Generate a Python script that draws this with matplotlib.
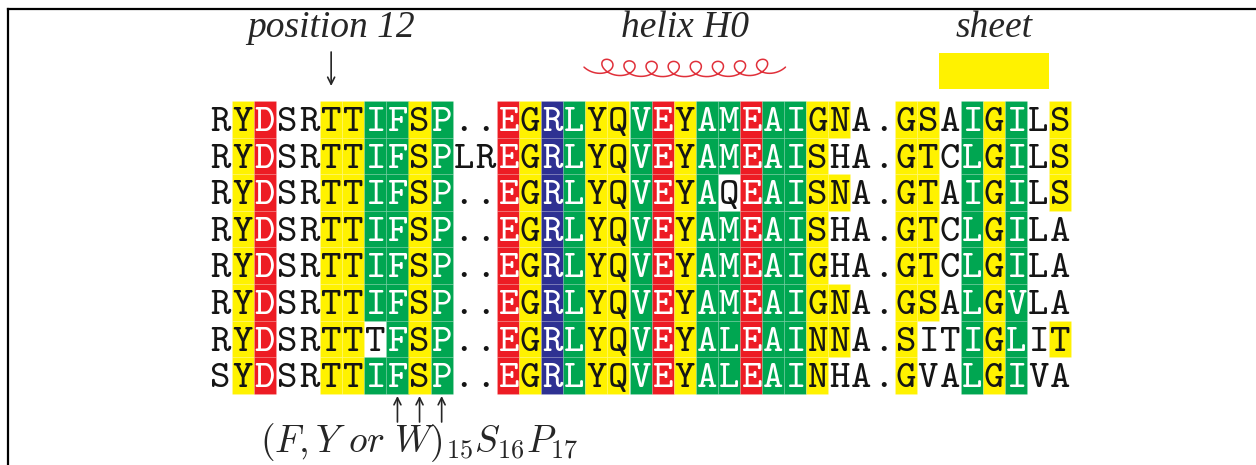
import os
import numpy as np
import matplotlib
matplotlib.use('Agg')
import matplotlib.pyplot as plt
from matplotlib.font_manager import FontProperties
from matplotlib.patches import Rectangle
from matplotlib.lines import Line2D

# ---------------- data ----------------
sequences = [
    "RYDSRTTIFSP..EGRLYQVEYAMEAIGNA.GSAIGILS",
    "RYDSRTTIFSPLREGRLYQVEYAMEAISHA.GTCLGILS",
    "RYDSRTTIFSP..EGRLYQVEYAQEAISNA.GTAIGILS",
    "RYDSRTTIFSP..EGRLYQVEYAMEAISHA.GTCLGILA",
    "RYDSRTTIFSP..EGRLYQVEYAMEAIGHA.GTCLGILA",
    "RYDSRTTIFSP..EGRLYQVEYAMEAIGNA.GSALGVLA",
    "RYDSRTTTFSP..EGRLYQVEYALEAINNA.SITIGLIT",
    "SYDSRTTIFSP..EGRLYQVEYALEAINHA.GVALGIVA",
]
colour_codes = [
    "wyrwwyyggygwwrybgyygryggrggyywwyywgygwy",
    "wyrwwyyggygwwrybgyygryggrggywwwyywgygwy",
    "wyrwwyyggygwwrybgyygrygwrggyywwyywgygwy",
    "wyrwwyyggygwwrybgyygryggrggywwwyywgygww",
    "wyrwwyyggygwwrybgyygryggrggywwwyywgygww",
    "wyrwwyyggygwwrybgyygryggrggyywwyywgygww",
    "wyrwwyywgygwwrybgyygryggrggyywwywwgygwy",
    "wyrwwyyggygwwrybgyygryggrggywwwywwgygww",
]
palette = {'w': '#FFFFFF', 'y': '#FFF200', 'r': '#ED1C24',
           'g': '#00A651', 'b': '#2E3192'}
text_on = {'w': '#151515', 'y': '#151515', 'r': 'white', 'g': 'white', 'b': 'white'}

position_label = 'position 12'
position_col = 5
helix_label = 'helix H0'
helix_cols = (17, 25)      # inclusive
helix_turns = 8
sheet_label = 'sheet'
sheet_cols = (33, 37)      # inclusive
motif_cols = [8, 9, 10]
motif_label = r'$(F,Y\ or\ W)_{15}S_{16}P_{17}$'

# ---------------- layout ----------------
W, H = 1256, 465
col_w, row_h = 22.1, 36.6
x_left, y_top = 209.6, 101.0

plt.rcParams['mathtext.fontset'] = 'cm'
fig = plt.figure(figsize=(W / 100, H / 100), dpi=100)
ax = fig.add_axes([0, 0, 1, 1])
ax.set_xlim(-x_left / col_w, (W - x_left) / col_w)
ax.set_ylim((H - y_top) / row_h, -y_top / row_h)
ax.axis('off')

def ry(ypx):
    return (ypx - y_top) / row_h

def cx(xpx):
    return (xpx - x_left) / col_w

tt = FontProperties(fname=os.path.join(matplotlib.get_data_path(),
                                       'fonts', 'ttf', 'cmtt10.ttf'), size=28)
title_font = dict(family='Liberation Serif', style='italic', size=27)
ink = '#262626'

# cells
for r, (seq, codes) in enumerate(zip(sequences, colour_codes)):
    for c, (ch, code) in enumerate(zip(seq, codes)):
        if code != 'w':
            ax.add_patch(Rectangle((c, r), 1, 1, facecolor=palette[code],
                                   edgecolor=(1, 1, 1, 0.15), lw=0.5))
        ax.text(c + 0.5, r + 0.82, ch, fontproperties=tt, color=text_on[code],
                ha='center', va='baseline')

arrow_style = dict(arrowstyle='->,head_length=0.5,head_width=0.25',
                   lw=1.2, color=ink, shrinkA=0, shrinkB=0)

# position 12
ax.text(position_col + 0.5, ry(37), position_label, fontdict=title_font,
        ha='center', va='baseline', color=ink)
ax.annotate('', xy=(position_col + 0.5, ry(86)), xytext=(position_col + 0.5, ry(52)),
            arrowprops=arrow_style)

# helix
h0, h1 = helix_cols
hmid = (h0 + h1 + 1) / 2
ax.text(hmid, ry(37), helix_label, fontdict=title_font, ha='center',
        va='baseline', color=ink)
pitch = col_w
dx, dy = 10.5, 7.6
t = np.linspace(-np.pi - 1.0, 2 * np.pi * (helix_turns - 1) + np.pi + 1.0, 2000)
xs = pitch * t / (2 * np.pi) - dx * np.sin(t)
ys = dy * np.cos(t)
xmid_px = pitch * (helix_turns - 1) / 2
half = xs.max() - xmid_px
ys = ys + 6.0 * ((xs - xmid_px) / half) ** 4
xs_px = x_left + (hmid * col_w) - xmid_px + xs
ys_px = 69 - ys
ax.plot(cx(xs_px), ry(ys_px), color='#E0303A', lw=1.1, solid_capstyle='round')

# sheet
s0, s1 = sheet_cols
ax.add_patch(Rectangle((s0, ry(53)), s1 - s0 + 1, ry(89) - ry(53),
                       facecolor=palette['y'], edgecolor='none'))
ax.text((s0 + s1 + 1) / 2, ry(37), sheet_label, fontdict=title_font,
        ha='center', va='baseline', color=ink)

# motif arrows
for c in motif_cols:
    ax.annotate('', xy=(c + 0.5, ry(396)), xytext=(c + 0.5, ry(422)),
                arrowprops=arrow_style)
ax.text(np.mean(motif_cols) + 0.5, ry(452), motif_label, fontsize=27,
        ha='center', va='baseline', color=ink)

# frame
fig.add_artist(Line2D([8 / W, 1], [1 - 9 / H, 1 - 9 / H], transform=fig.transFigure,
                      color='black', lw=1.6))
fig.add_artist(Line2D([8 / W, 8 / W], [0, 1 - 9 / H], transform=fig.transFigure,
                      color='black', lw=1.6))

fig.savefig('out.png', dpi=100)
